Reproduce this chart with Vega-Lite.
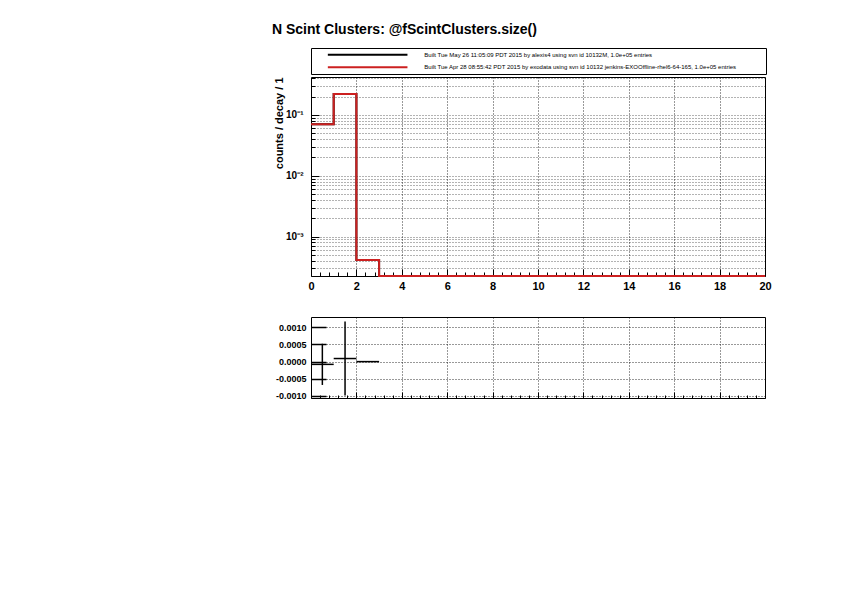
{
  "$schema": "https://vega.github.io/schema/vega-lite/v6.json",
  "autosize": {"type": "none"},
  "padding": {"left": 311, "top": 48, "right": 531, "bottom": 547},
  "background": "white",
  "config": {
    "font": "Liberation Sans",
    "view": {"stroke": "black", "strokeWidth": 1},
    "axis": {"labelFont": "Liberation Sans", "labelFontWeight": "bold", "titleFont": "Liberation Sans", "titleFontWeight": "bold", "domain": false, "labelColor": "black", "tickColor": "black", "titleColor": "black"}
  },
  "title": {"text": "N Scint Clusters: @fScintClusters.size()", "anchor": "start", "frame": "group", "dx": -39, "fontSize": 14, "font": "Liberation Sans", "fontWeight": "bold", "color": "black", "offset": 11},
  "datasets": {
    "legend": [
      {"label": "Built Tue May 26 11:05:09 PDT 2015 by alexis4 using svn id 10132M, 1.0e+05 entries", "series": "new"},
      {"label": "Built Tue Apr 28 08:55:42 PDT 2015 by exodata using svn id 10132 jenkins-EXOOffline-rhel6-64-165, 1.0e+05 entries", "series": "ref"}
    ],
    "hist": [
      {"x": 0, "y": 0.0703, "series": "new"},
      {"x": 1, "y": 0.221, "series": "new"},
      {"x": 2, "y": 0.000414, "series": "new"},
      {"x": 3, "y": 0.000225, "series": "new"},
      {"x": 4, "y": 0.000225, "series": "new"},
      {"x": 5, "y": 0.000225, "series": "new"},
      {"x": 6, "y": 0.000225, "series": "new"},
      {"x": 7, "y": 0.000225, "series": "new"},
      {"x": 8, "y": 0.000225, "series": "new"},
      {"x": 9, "y": 0.000225, "series": "new"},
      {"x": 10, "y": 0.000225, "series": "new"},
      {"x": 11, "y": 0.000225, "series": "new"},
      {"x": 12, "y": 0.000225, "series": "new"},
      {"x": 13, "y": 0.000225, "series": "new"},
      {"x": 14, "y": 0.000225, "series": "new"},
      {"x": 15, "y": 0.000225, "series": "new"},
      {"x": 16, "y": 0.000225, "series": "new"},
      {"x": 17, "y": 0.000225, "series": "new"},
      {"x": 18, "y": 0.000225, "series": "new"},
      {"x": 19, "y": 0.000225, "series": "new"},
      {"x": 20, "y": 0.000225, "series": "new"},
      {"x": 0, "y": 0.0703, "series": "ref"},
      {"x": 1, "y": 0.221, "series": "ref"},
      {"x": 2, "y": 0.000414, "series": "ref"},
      {"x": 3, "y": 0.000225, "series": "ref"},
      {"x": 4, "y": 0.000225, "series": "ref"},
      {"x": 5, "y": 0.000225, "series": "ref"},
      {"x": 6, "y": 0.000225, "series": "ref"},
      {"x": 7, "y": 0.000225, "series": "ref"},
      {"x": 8, "y": 0.000225, "series": "ref"},
      {"x": 9, "y": 0.000225, "series": "ref"},
      {"x": 10, "y": 0.000225, "series": "ref"},
      {"x": 11, "y": 0.000225, "series": "ref"},
      {"x": 12, "y": 0.000225, "series": "ref"},
      {"x": 13, "y": 0.000225, "series": "ref"},
      {"x": 14, "y": 0.000225, "series": "ref"},
      {"x": 15, "y": 0.000225, "series": "ref"},
      {"x": 16, "y": 0.000225, "series": "ref"},
      {"x": 17, "y": 0.000225, "series": "ref"},
      {"x": 18, "y": 0.000225, "series": "ref"},
      {"x": 19, "y": 0.000225, "series": "ref"},
      {"x": 20, "y": 0.000225, "series": "ref"}
    ],
    "diff": [
      {"bin_start": 0, "bin_end": 1, "center": 0.5, "diff": -0.00008, "lo": -0.00068, "hi": 0.00052},
      {"bin_start": 1, "bin_end": 2, "center": 1.5, "diff": 0.00009, "lo": -0.00099, "hi": 0.00117},
      {"bin_start": 2, "bin_end": 3, "center": 2.5, "diff": 0.0, "lo": -0.00001, "hi": 0.00001}
    ]
  },
  "spacing": 3,
  "bounds": "flush",
  "vconcat": [
    {
      "width": 455,
      "height": 26,
      "data": {"name": "legend"},
      "layer": [
        {
          "mark": {"type": "rule", "strokeWidth": 2},
          "encoding": {
            "x": {"datum": 0.037, "type": "quantitative", "scale": {"domain": [0, 1]}, "axis": null},
            "x2": {"datum": 0.212},
            "y": {"field": "label", "type": "nominal", "sort": null, "scale": {"type": "point", "padding": 0.55}, "axis": null},
            "color": {"field": "series", "type": "nominal", "scale": {"domain": ["new", "ref"], "range": ["black", "#cc2020"]}, "legend": null}
          }
        },
        {
          "mark": {"type": "text", "align": "left", "baseline": "middle", "fontSize": 6.0, "fontWeight": "normal", "font": "Liberation Sans", "color": "black"},
          "encoding": {
            "x": {"datum": 0.249, "type": "quantitative"},
            "y": {"field": "label", "type": "nominal", "sort": null},
            "text": {"field": "label"}
          }
        }
      ]
    },
    {
      "spacing": 41,
      "bounds": "flush",
      "vconcat": [
        {
          "width": 454,
          "height": 199,
          "data": {"name": "hist"},
          "layer": [
            {
              "transform": [{"filter": "datum.series == 'new'"}],
              "mark": {"type": "line", "interpolate": "step-after", "color": "black", "strokeWidth": 2, "clip": false},
              "encoding": {
                "x": {"field": "x", "type": "quantitative", "scale": {"domain": [0, 20], "nice": false, "zero": false},
                  "axis": {"values": [0,0.4,0.8,1.2,1.6,2,2.4,2.8,3.2,3.6,4,4.4,4.8,5.2,5.6,6,6.4,6.8,7.2,7.6,8,8.4,8.8,9.2,9.6,10,10.4,10.8,11.2,11.6,12,12.4,12.8,13.2,13.6,14,14.4,14.8,15.2,15.6,16,16.4,16.8,17.2,17.6,18,18.4,18.8,19.2,19.6,20],
                    "tickCount": 200,
                    "labelExpr": "datum.value % 2 == 0 ? format(datum.value, 'd') : ''", "labelFontSize": 11, "labelPadding": 11, "labelFlush": false, "labelOverlap": false,
                    "tickSize": {"condition": {"test": "datum.value % 2 == 0", "value": -7}, "value": -4},
                    "grid": true, "gridColor": "black", "gridDash": [1, 2], "gridWidth": 1,
                    "gridOpacity": {"condition": {"test": "datum.value % 2 == 0 && datum.value > 0 && datum.value < 20", "value": 0.8}, "value": 0},
                    "title": null}},
                "y": {"field": "y", "type": "quantitative", "scale": {"type": "log", "domain": [0.000225, 0.42], "nice": false},
                  "axis": {"values": [0.0003,0.0004,0.0005,0.0006,0.0007,0.0008,0.0009,0.001,0.002,0.003,0.004,0.005,0.006,0.007,0.008,0.009,0.01,0.02,0.03,0.04,0.05,0.06,0.07,0.08,0.09,0.1,0.2,0.3,0.4],
                    "tickCount": 200,
                    "labelExpr": "datum.value == 0.1 ? '10⁻¹' : datum.value == 0.01 ? '10⁻²' : datum.value == 0.001 ? '10⁻³' : ''",
                    "labelFontSize": 10, "labelPadding": 16, "labelOverlap": false,
                    "tickSize": {"condition": {"test": "datum.value == 0.1 || datum.value == 0.01 || datum.value == 0.001", "value": -8}, "value": -4},
                    "grid": true, "gridColor": "black", "gridDash": [1, 2], "gridWidth": 1, "gridOpacity": 0.6,
                    "title": "counts / decay / 1", "titleFontSize": 11, "titleAnchor": "end", "titlePadding": 1}}
              }
            },
            {
              "transform": [{"filter": "datum.series == 'ref'"}],
              "mark": {"type": "line", "interpolate": "step-after", "color": "#cc2020", "strokeWidth": 2, "clip": false},
              "encoding": {
                "x": {"field": "x", "type": "quantitative"},
                "y": {"field": "y", "type": "quantitative"}
              }
            }
          ]
        },
        {
          "width": 454,
          "height": 81,
          "data": {"name": "diff"},
          "layer": [
            {
              "mark": {"type": "rule", "color": "black", "strokeWidth": 1.5},
              "encoding": {
                "x": {"field": "center", "type": "quantitative", "scale": {"domain": [0, 20], "nice": false, "zero": false},
                  "axis": {"values": [0,0.4,0.8,1.2,1.6,2,2.4,2.8,3.2,3.6,4,4.4,4.8,5.2,5.6,6,6.4,6.8,7.2,7.6,8,8.4,8.8,9.2,9.6,10,10.4,10.8,11.2,11.6,12,12.4,12.8,13.2,13.6,14,14.4,14.8,15.2,15.6,16,16.4,16.8,17.2,17.6,18,18.4,18.8,19.2,19.6,20],
                    "tickCount": 200,
                    "labels": false,
                    "tickSize": {"condition": {"test": "datum.value % 2 == 0", "value": -6}, "value": -3},
                    "grid": true, "gridColor": "black", "gridDash": [1, 2], "gridWidth": 1,
                    "gridOpacity": {"condition": {"test": "datum.value % 2 == 0 && datum.value > 0 && datum.value < 20", "value": 0.8}, "value": 0},
                    "title": null}},
                "y": {"field": "lo", "type": "quantitative", "scale": {"domain": [-0.00106, 0.0013], "nice": false, "zero": false},
                  "axis": {"values": [-0.001, -0.0005, 0, 0.0005, 0.001],
                    "tickCount": 50,
                    "labelExpr": "datum.value < 0 ? '-' + format(-datum.value, '.4f') : format(datum.value, '.4f')",
                    "labelFontSize": 9, "labelPadding": 20, "labelOverlap": false,
                    "tickSize": -15, "tickWidth": 1.5,
                    "grid": true, "gridColor": "black", "gridDash": [1, 2], "gridWidth": 1, "gridOpacity": 0.8,
                    "title": null}},
                "y2": {"field": "hi"}
              }
            },
            {
              "mark": {"type": "rule", "color": "black", "strokeWidth": 1.5},
              "encoding": {
                "x": {"field": "bin_start", "type": "quantitative"},
                "x2": {"field": "bin_end"},
                "y": {"field": "diff", "type": "quantitative"}
              }
            }
          ]
        }
      ]
    }
  ]
}
